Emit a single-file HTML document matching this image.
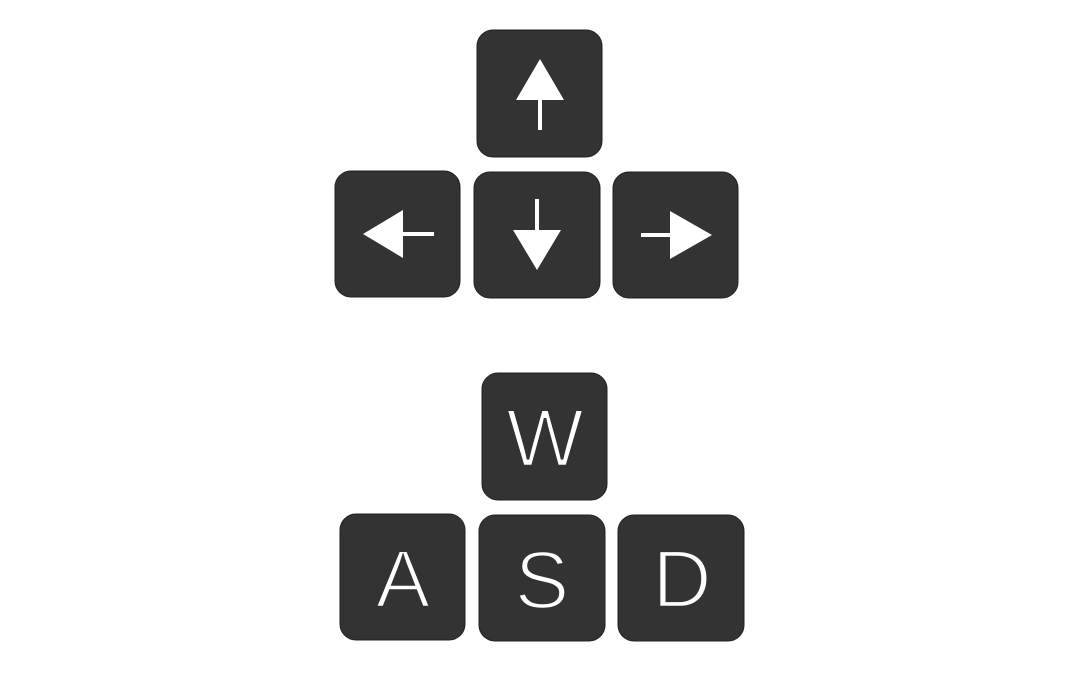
<!DOCTYPE html>
<html><head><style>
html,body{margin:0;padding:0;background:#fff;}
svg{display:block}
text{font-family:"Liberation Sans",sans-serif;font-size:82px;fill:#fff;stroke:#333;stroke-width:2.5;text-anchor:middle;}
</style></head><body>
<svg width="1080" height="674" viewBox="0 0 1080 674">
<g fill="#333" stroke="#222" stroke-width="1">
<rect x="477" y="30" width="125" height="127" rx="16"/>
<rect x="335" y="171" width="125" height="126" rx="16"/>
<rect x="474" y="172" width="126" height="126" rx="16"/>
<rect x="613" y="172" width="125" height="126" rx="16"/>
<rect x="482" y="373" width="125" height="127" rx="16"/>
<rect x="340" y="514" width="125" height="126" rx="16"/>
<rect x="479" y="515" width="126" height="126" rx="16"/>
<rect x="618" y="515" width="126" height="126" rx="16"/>
</g>
<g fill="#fff">
<polygon points="540,59 564,100 516,100"/><rect x="538" y="99" width="4" height="31"/>
<polygon points="363,234 403,210 403,258"/><rect x="402" y="232" width="32" height="4"/>
<polygon points="513,230 561,230 537,270"/><rect x="535" y="199" width="4" height="32"/>
<polygon points="712,235 670,211 670,259"/><rect x="641" y="233" width="30" height="4"/>
</g>
<g>
<text x="545" y="466">W</text>
<text x="403" y="607">A</text>
<text x="542" y="608">S</text>
<text x="682" y="607">D</text>
</g>
</svg>
</body></html>
